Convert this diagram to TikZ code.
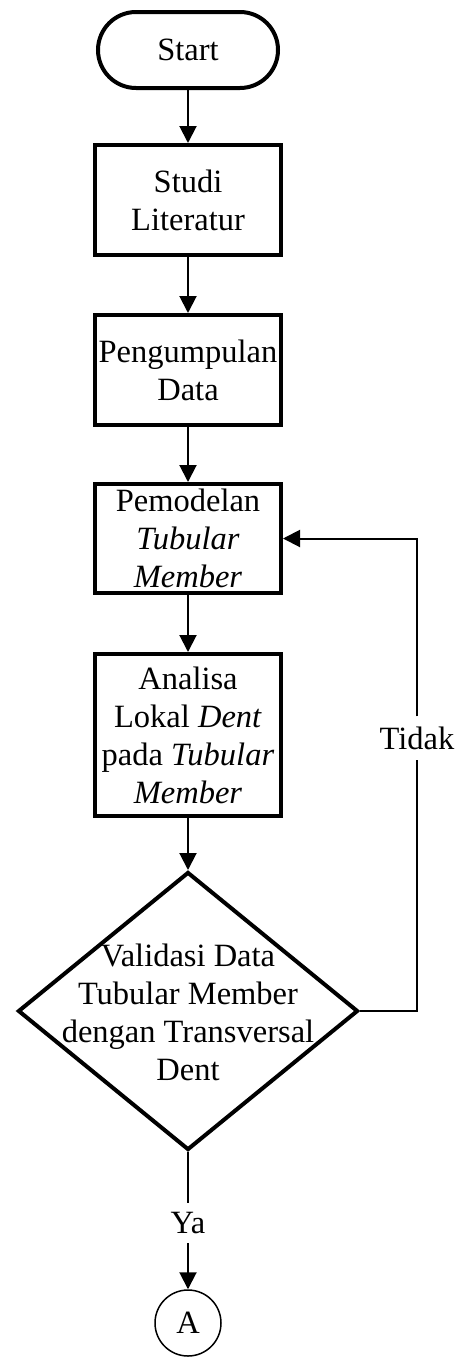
\documentclass[tikz,border=0pt]{standalone}
\usepackage{fontspec}
\setmainfont{Liberation Serif}
\usetikzlibrary{arrows.meta,shapes.geometric}
\begin{document}
\begin{tikzpicture}[x=1pt,y=-1pt,
  base/.style={font=\fontsize{32.5}{38}\selectfont, align=center, inner sep=0pt},
  proc/.style={base, draw, line width=4pt, minimum width=186pt},
  conn/.style={line width=2pt, -{Triangle[width=17pt,length=17pt]}},
  plain/.style={line width=2pt}]
\useasboundingbox (0,0) rectangle (456,1357);
\node[base, draw, line width=4pt, rounded corners=38pt, minimum width=180pt, minimum height=76pt] (start) at (188,50) {Start};
\node[proc, minimum height=110pt] (studi) at (188,200) {Studi\\Literatur};
\node[proc, minimum height=110pt] (peng) at (188,370) {Pengumpulan\\Data};
\node[proc, minimum height=109pt] (pemod) at (188,538.5) {Pemodelan\\\textit{Tubular}\\\textit{Member}};
\node[proc, minimum height=162pt] (ana) at (188,735) {Analisa\\Lokal \textit{Dent}\\pada \textit{Tubular}\\\textit{Member}};
\node[draw, diamond, line width=4pt, minimum width=340pt, minimum height=278pt, inner sep=0pt] (dia) at (188,1011) {};
\node[base] (diatext) at (188,1012) {Validasi Data\\Tubular Member\\dengan Transversal\\Dent};
\node[base, minimum height=40pt] (ya) at (188,1223) {Ya};
\node[base, draw, circle, line width=1.5pt, minimum size=66pt] (A) at (188,1323) {A};
\node[base, minimum height=43pt] (tidak) at (417,738) {Tidak};
\coordinate (fb) at (417,1011);
\draw[conn] (start) -- (studi);
\draw[conn] (studi) -- (peng);
\draw[conn] (peng) -- (pemod);
\draw[conn] (pemod) -- (ana);
\draw[conn] (ana) -- (dia.north);
\draw[plain] (dia.south) -- (ya);
\draw[conn] (ya) -- (A);
\draw[plain] (dia.east) -- (fb) -- (tidak.south);
\draw[conn] (tidak.north) |- (pemod.east);
\end{tikzpicture}
\end{document}
